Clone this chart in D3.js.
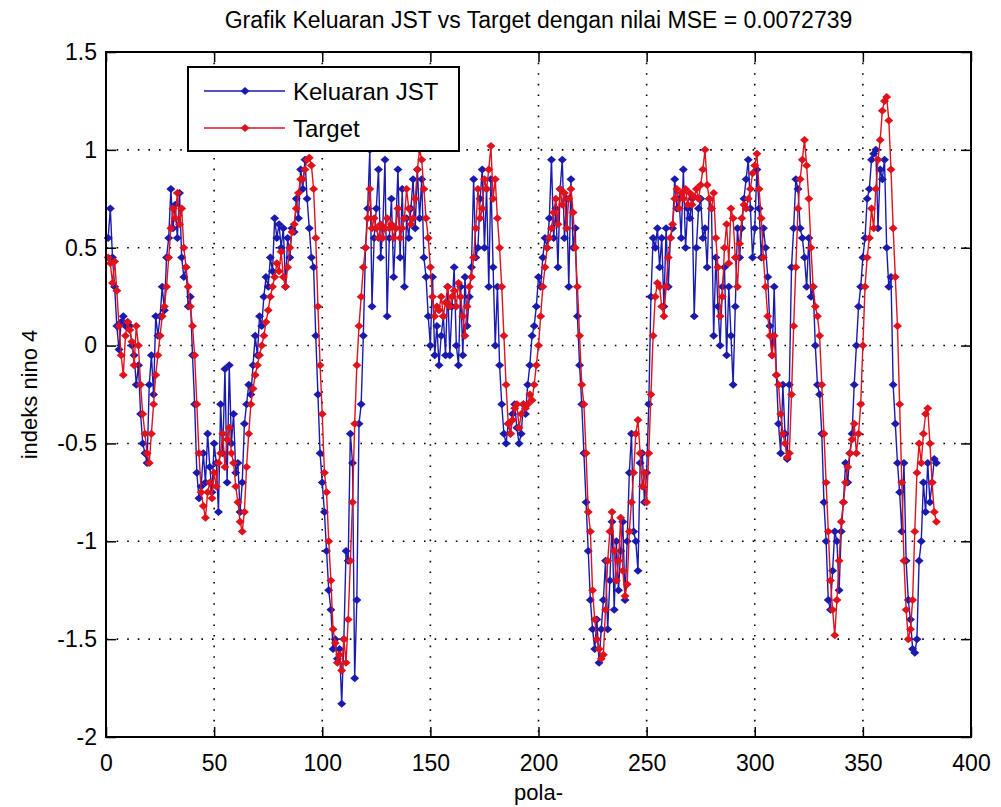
<!DOCTYPE html>
<html>
<head>
<meta charset="utf-8">
<script src="https://cdn.jsdelivr.net/npm/d3@7"></script>
<style>
  body { margin: 0; background: #ffffff; }
  svg text { font-family: "Liberation Sans", Arial, sans-serif; fill: #000; }
</style>
</head>
<body>
<svg id="chart" width="1001" height="807"></svg>
<script>
var titleText = "Grafik Keluaran JST vs Target dengan nilai MSE = 0.0072739";
var xLabel = "pola-";
var yLabel = "indeks nino 4";
var seriesNames = ["Keluaran JST", "Target"];
var xTicks = [0, 50, 100, 150, 200, 250, 300, 350, 400];
var yTicks = [-2, -1.5, -1, -0.5, 0, 0.5, 1, 1.5];

// keluaran jaringan (biru), pola 1..384
var keluaranJST = [
  0.55, 0.70, 0.45, 0.30, 0.10, -0.02, 0.12, 0.15, 0.10, 0.12,
  0.10, 0.00, -0.05, -0.20, -0.10, -0.35, -0.50, -0.55, -0.60, -0.20,
  -0.05, -0.25, 0.15, 0.05, 0.15, 0.30, 0.18, 0.45, 0.55, 0.80,
  0.60, 0.72, 0.55, 0.78, 0.45, 0.35, 0.40, 0.20, 0.25, -0.05,
  -0.30, -0.65, -0.78, -0.72, -0.55, -0.70, -0.45, -0.62, -0.75, -0.50,
  -0.60, -0.85, -0.30, -0.55, -0.12, -0.70, -0.10, -0.50, -0.35, -0.65,
  -0.60, -0.85, -0.70, -0.40, -0.30, -0.20, -0.25, -0.10, 0.05, -0.05,
  0.15, 0.10, 0.25, 0.35, 0.30, 0.45, 0.38, 0.65, 0.55, 0.62,
  0.50, 0.60, 0.30, 0.55, 0.45, 0.60, 0.58, 0.75, 0.65, 0.90,
  0.80, 0.95, 0.75, 0.60, 0.45, 0.40, 0.05, -0.25, -0.55, -0.70,
  -0.85, -1.05, -1.25, -1.35, -1.55, -1.50, -1.60, -1.55, -1.83, -1.50,
  -1.05, -1.10, -0.45, -0.60, -1.70, -1.30, -0.40, -0.30, 0.05, 0.50,
  0.70, 1.00, 0.20, 0.55, 0.70, 0.90, 0.45, 0.60, 0.95, 0.15,
  0.55, 0.75, 0.35, 0.60, 0.90, 0.45, 0.80, 0.30, 0.65, 0.55,
  0.70, 0.85, 0.60, 0.90, 0.65, 0.85, 0.45, 0.35, 0.15, 0.00,
  0.35, -0.05, 0.10, -0.10, 0.05, 0.15, -0.05, 0.30, -0.05, 0.20,
  0.40, 0.00, -0.10, 0.30, -0.05, 0.35, 0.10, 0.25, 0.40, 0.85,
  0.45, 0.50, 0.75, 0.90, 0.50, 0.80, 0.30, 0.85, 0.40, 0.00,
  0.30, -0.10, -0.30, -0.45, -0.50, -0.40, -0.45, -0.35, -0.30, -0.42,
  -0.50, -0.45, -0.30, -0.35, -0.20, -0.10, 0.05, 0.10, 0.20, 0.35,
  0.30, 0.45, 0.55, 0.50, 0.65, 0.95, 0.55, 0.70, 0.40, 0.80,
  0.95, 0.55, 0.75, 0.30, 0.85, 0.50, 0.60, 0.15, -0.10, -0.30,
  -0.55, -0.80, -1.05, -1.30, -1.45, -1.55, -1.40, -1.62, -1.45, -1.30,
  -1.10, -1.45, -1.20, -0.90, -1.35, -1.00, -1.25, -1.05, -0.90, -1.30,
  -1.00, -0.65, -0.45, -0.95, -1.00, -1.15, -0.60, -0.55, -0.80, -0.65,
  -0.30, 0.25, 0.55, 0.50, 0.60, 0.40, 0.55, 0.20, 0.60, 0.30,
  0.55, 0.60, 0.85, 0.70, 0.75, 0.55, 0.90, 0.50, 0.70, 0.65,
  0.75, 0.15, 0.50, 0.70, 0.75, 0.55, 0.60, 0.40, 0.75, 0.70,
  0.05, 0.45, 0.20, 0.00, 0.30, 0.40, -0.05, 0.30, 0.05, -0.20,
  0.20, 0.60, 0.45, 0.60, 0.75, 0.85, 0.95, 0.70, 0.45, 0.60,
  0.90, 0.70, 0.45, 0.60, 0.50, 0.35, 0.10, -0.05, 0.30, -0.15,
  -0.40, -0.55, -0.20, -0.45, -0.58, -0.20, 0.40, 0.60, 0.85, 0.80,
  0.60, 0.55, 0.45, 0.30, 0.55, 0.25, 0.30, 0.00, -0.20, -0.25,
  -0.45, -0.80, -1.00, -1.30, -1.35, -1.15, -0.95, -1.00, -1.25, -0.95,
  -0.80, -0.60, -0.70, -0.55, -0.45, -0.20, 0.00, 0.20, 0.30, 0.45,
  0.55, 0.75, 0.80, 0.95, 0.98, 1.00, 0.60, 0.90, 0.85, 0.95,
  0.50, 0.30, 0.35, -0.20, -0.40, -0.60, -0.75, -0.95, -0.60, -1.10,
  -1.30, -1.40, -1.55, -1.57, -1.50, -1.10, -1.00, -0.70, -0.85, -0.60,
  -0.80, -0.70, -0.58, -0.60
];

// target (merah), pola 1..384
var target = [
  0.45, 0.42, 0.32, 0.43, 0.28, 0.10, -0.05, -0.15, 0.05, 0.12,
  0.08, 0.02, -0.10, 0.10, 0.00, -0.20, -0.35, -0.45, -0.55, -0.60,
  -0.45, -0.30, -0.15, -0.05, 0.05, 0.15, 0.20, 0.30, 0.45, 0.60,
  0.70, 0.65, 0.78, 0.62, 0.70, 0.50, 0.40, 0.30, 0.20, 0.10,
  -0.05, -0.30, -0.55, -0.75, -0.82, -0.88, -0.75, -0.70, -0.78, -0.65,
  -0.72, -0.60, -0.55, -0.45, -0.62, -0.48, -0.42, -0.55, -0.60, -0.72,
  -0.80, -0.90, -0.95, -0.85, -0.62, -0.45, -0.30, -0.22, -0.15, -0.10,
  -0.05, 0.00, 0.05, 0.12, 0.18, 0.25, 0.30, 0.35, 0.42, 0.38,
  0.48, 0.35, 0.30, 0.40, 0.50, 0.58, 0.62, 0.70, 0.78, 0.85,
  0.85, 0.90, 0.95, 0.96, 0.92, 0.80, 0.55, 0.20, -0.10, -0.35,
  -0.65, -0.75, -1.00, -1.20, -1.45, -1.52, -1.62, -1.58, -1.66, -1.50,
  -1.62, -1.40, -1.10, -0.80, -0.40, -0.10, 0.10, 0.25, 0.40, 0.50,
  0.65, 0.80, 0.60, 0.65, 0.60, 0.55, 0.62, 0.55, 0.60, 0.65,
  0.60, 0.62, 0.55, 0.60, 0.70, 0.55, 0.60, 0.65, 0.80, 0.70,
  0.62, 0.65, 0.75, 0.90, 1.00, 0.95, 0.80, 0.65, 0.55, 0.40,
  0.25, 0.15, 0.20, 0.18, 0.25, 0.15, 0.22, 0.30, 0.20, 0.25,
  0.28, 0.20, 0.32, 0.25, 0.15, 0.05, 0.20, 0.30, 0.35, 0.45,
  0.60, 0.80, 0.65, 0.70, 0.85, 0.80, 0.90, 1.02, 0.75, 0.85,
  0.65, 0.50, 0.30, 0.05, -0.20, -0.40, -0.45, -0.38, -0.32, -0.30,
  -0.42, -0.35, -0.30, -0.32, -0.30, -0.25, -0.28, -0.20, -0.10, 0.00,
  0.15, 0.30, 0.40, 0.50, 0.55, 0.60, 0.68, 0.75, 0.62, 0.80,
  0.72, 0.78, 0.60, 0.75, 0.80, 0.68, 0.50, 0.30, 0.05, -0.20,
  -0.30, -0.55, -0.85, -0.95, -1.25, -1.40, -1.50, -1.55, -1.60, -1.58,
  -1.35, -1.10, -0.95, -0.85, -1.05, -1.20, -1.10, -0.88, -1.15, -1.28,
  -1.22, -0.95, -0.80, -0.65, -0.45, -0.38, -0.55, -0.72, -0.65, -0.80,
  -0.55, -0.25, 0.05, 0.25, 0.32, 0.30, 0.20, 0.15, 0.30, 0.45,
  0.55, 0.62, 0.75, 0.80, 0.70, 0.78, 0.75, 0.80, 0.72, 0.78,
  0.72, 0.76, 0.80, 0.75, 0.82, 0.90, 1.00, 0.82, 0.75, 0.70,
  0.78, 0.55, 0.40, 0.15, 0.25, 0.50, 0.62, 0.42, 0.70, 0.65,
  0.45, 0.30, 0.52, 0.65, 0.72, 0.70, 0.75, 0.80, 0.88, 0.92,
  0.98, 0.80, 0.65, 0.45, 0.30, 0.15, 0.05, -0.05, 0.05, -0.15,
  -0.20, -0.35, -0.45, -0.50, -0.57, -0.55, -0.25, 0.10, 0.40, 0.70,
  0.85, 0.95, 1.05, 0.92, 0.75, 0.50, 0.30, 0.20, 0.15, 0.05,
  -0.20, -0.45, -0.70, -0.95, -1.20, -1.35, -1.48, -1.30, -1.10, -0.90,
  -0.80, -0.70, -0.62, -0.55, -0.48, -0.40, -0.55, -0.45, -0.30, 0.00,
  0.30, 0.45, 0.55, 0.70, 0.60, 0.80, 0.95, 1.05, 1.20, 1.25,
  1.27, 1.15, 0.90, 0.60, 0.35, 0.10, -0.30, -0.70, -1.10, -1.35,
  -1.50, -1.45, -1.30, -0.95, -0.65, -0.50, -0.60, -0.45, -0.35, -0.32,
  -0.50, -0.70, -0.85, -0.90
];

var svg = d3.select("#chart");
var margin = {left: 106, right: 30, top: 52, bottom: 70};
var width = +svg.attr("width");
var height = +svg.attr("height");

var x = d3.scaleLinear().domain([0, 400]).range([margin.left, width - margin.right]);
var y = d3.scaleLinear().domain([-2, 1.5]).range([height - margin.bottom, margin.top]);

var colors = {"Keluaran JST": "#1a1aae", "Target": "#e0121c"};

// background plot area
svg.append("rect")
    .attr("x", x(0)).attr("y", y(1.5))
    .attr("width", x(400) - x(0)).attr("height", y(-2) - y(1.5))
    .attr("fill", "#fff");

// grid dotted
var grid = svg.append("g").attr("class", "grid");
grid.selectAll("line.gx")
    .data(xTicks.slice(1, -1))
    .enter().append("line")
    .attr("x1", function (d) { return x(d); })
    .attr("x2", function (d) { return x(d); })
    .attr("y1", y(1.5)).attr("y2", y(-2))
    .attr("stroke", "#000").attr("stroke-width", 1.6)
    .attr("stroke-dasharray", "1.6,9");
grid.selectAll("line.gy")
    .data(yTicks.slice(1, -1))
    .enter().append("line")
    .attr("y1", function (d) { return y(d); })
    .attr("y2", function (d) { return y(d); })
    .attr("x1", x(0)).attr("x2", x(400))
    .attr("stroke", "#000").attr("stroke-width", 1.6)
    .attr("stroke-dasharray", "1.6,9");

// series
var allSeries = [
    {name: seriesNames[0], values: keluaranJST},
    {name: seriesNames[1], values: target}
];

var line = d3.line()
    .x(function (d, i) { return x(i + 1); })
    .y(function (d) { return y(d); });

var diamond = "M0,-4L4.5,0L0,4L-4.5,0Z";

allSeries.forEach(function (s) {
    var g = svg.append("g").attr("class", "series");
    g.append("path")
        .datum(s.values)
        .attr("fill", "none")
        .attr("stroke", colors[s.name])
        .attr("stroke-width", 1.4)
        .attr("d", line);
    g.selectAll("path.m")
        .data(s.values)
        .enter().append("path")
        .attr("class", "m")
        .attr("d", diamond)
        .attr("fill", colors[s.name])
        .attr("transform", function (d, i) {
            return "translate(" + x(i + 1) + "," + y(d) + ")";
        });
});

// axes with inside ticks on all four sides
var tickLen = 10;
svg.append("g")
    .attr("transform", "translate(0," + y(-2) + ")")
    .call(d3.axisBottom(x).tickValues(xTicks).tickSize(-tickLen).tickPadding(tickLen + 8)
        .tickFormat(d3.format("d")))
    .call(function (g) { g.select(".domain").remove(); });
svg.append("g")
    .attr("transform", "translate(0," + y(1.5) + ")")
    .call(d3.axisTop(x).tickValues(xTicks).tickSize(-tickLen).tickFormat(""))
    .call(function (g) { g.select(".domain").remove(); });
svg.append("g")
    .attr("transform", "translate(" + x(0) + ",0)")
    .call(d3.axisLeft(y).tickValues(yTicks).tickSize(-tickLen).tickPadding(9)
        .tickFormat(function (d) { return String(d); }))
    .call(function (g) { g.select(".domain").remove(); });
svg.append("g")
    .attr("transform", "translate(" + x(400) + ",0)")
    .call(d3.axisRight(y).tickValues(yTicks).tickSize(-tickLen).tickFormat(""))
    .call(function (g) { g.select(".domain").remove(); });

svg.selectAll(".tick line").attr("stroke", "#000").attr("stroke-width", 1.5);
svg.selectAll(".tick text")
    .style("font-family", "'Liberation Sans', Arial, sans-serif")
    .style("font-size", "23px")
    .attr("fill", "#000");

// box
svg.append("rect")
    .attr("x", x(0)).attr("y", y(1.5))
    .attr("width", x(400) - x(0)).attr("height", y(-2) - y(1.5))
    .attr("fill", "none").attr("stroke", "#000").attr("stroke-width", 2);

// legend
var legend = svg.append("g").attr("transform", "translate(188,67)");
legend.append("rect")
    .attr("width", 271).attr("height", 84)
    .attr("fill", "#fff").attr("stroke", "#000").attr("stroke-width", 2);
var items = legend.selectAll("g.item")
    .data(seriesNames)
    .enter().append("g")
    .attr("transform", function (d, i) { return "translate(0," + (24 + i * 37) + ")"; });
items.append("line")
    .attr("x1", 16).attr("x2", 97)
    .attr("stroke", function (d) { return colors[d]; })
    .attr("stroke-width", 1.4);
items.append("path")
    .attr("d", diamond)
    .attr("transform", "translate(57,0)")
    .attr("fill", function (d) { return colors[d]; });
items.append("text")
    .attr("x", 105).attr("dy", "0.36em")
    .style("font-size", "24px")
    .text(function (d) { return d; });

// title and labels
svg.append("text")
    .attr("x", (x(0) + x(400)) / 2).attr("y", 28)
    .attr("text-anchor", "middle")
    .style("font-size", "23px")
    .text(titleText);
svg.append("text")
    .attr("x", (x(0) + x(400)) / 2).attr("y", 800)
    .attr("text-anchor", "middle")
    .style("font-size", "22px")
    .text(xLabel);
svg.append("text")
    .attr("transform", "translate(37," + ((y(1.5) + y(-2)) / 2) + ") rotate(-90)")
    .attr("text-anchor", "middle")
    .style("font-size", "22px")
    .text(yLabel);
</script>
</body>
</html>
